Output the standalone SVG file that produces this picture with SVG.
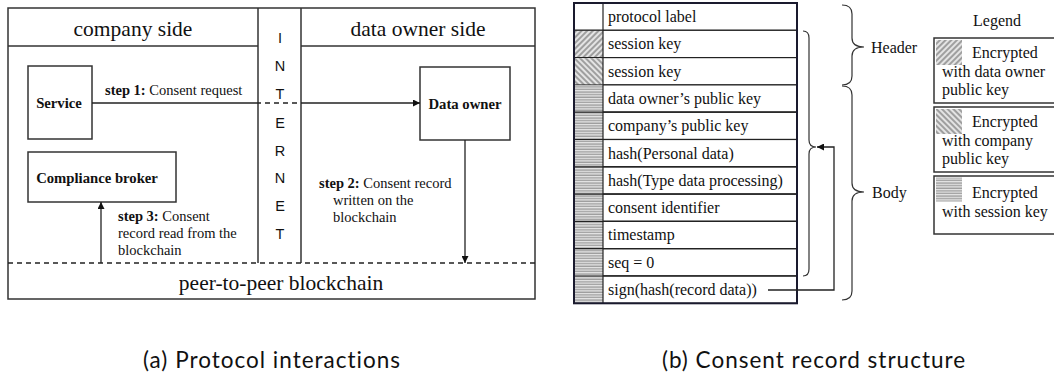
<svg xmlns="http://www.w3.org/2000/svg" width="1054" height="379" viewBox="0 0 1054 379">
  <defs>
    <style>
      .frame { fill: none; stroke: #333; stroke-width: 1.5; }
      .box { fill: #fff; stroke: #333; stroke-width: 1.5; }
      .dash { fill: none; stroke: #222; stroke-width: 1.3; stroke-dasharray: 5 4; }
      .wire { fill: none; stroke: #222; stroke-width: 1.3; }
      .brace { fill: none; stroke: #333; stroke-width: 1.2; }
      .row { fill: #fff; stroke: #222; stroke-width: 1.2; }
      .rm { font-family: "Liberation Serif", "DejaVu Serif", "Noto Serif", serif; }
      .nd { font-family: "Liberation Serif", "DejaVu Serif", serif; font-size: 14.7px; font-weight: bold; }
      text { fill: #111; }
    </style>
    <marker id="arrow" viewBox="0 0 10 10" refX="10" refY="5" markerWidth="7" markerHeight="7" markerUnits="userSpaceOnUse" orient="auto">
      <path d="M0,0 L10,5 L0,10 z" fill="#111"/>
    </marker>
    <!-- encrypted with data owner public key -->
    <pattern id="hatchOwner" width="4" height="4" patternUnits="userSpaceOnUse" patternTransform="rotate(45)">
      <rect width="4" height="4" fill="#e4e4e4"/>
      <line x1="1" y1="0" x2="1" y2="4" stroke="#7a7a7a" stroke-width="1.3"/>
    </pattern>
    <!-- encrypted with company public key -->
    <pattern id="hatchCompany" width="4" height="4" patternUnits="userSpaceOnUse" patternTransform="rotate(-45)">
      <rect width="4" height="4" fill="#e4e4e4"/>
      <line x1="1" y1="0" x2="1" y2="4" stroke="#7a7a7a" stroke-width="1.3"/>
    </pattern>
    <!-- encrypted with session key -->
    <pattern id="hatchSession" width="4" height="2.6" patternUnits="userSpaceOnUse">
      <rect width="4" height="2.6" fill="#e8e8e8"/>
      <line x1="0" y1="1" x2="4" y2="1" stroke="#8c8c8c" stroke-width="1.1"/>
    </pattern>
  </defs>

  <rect width="1054" height="379" fill="#fff"/>

  <!-- ===== (a) protocol interactions ===== -->
  <g id="frame-a">
    <rect class="frame" x="8" y="8" width="527" height="291"/>
    <line class="frame" x1="8" y1="46" x2="258" y2="46"/>
    <line class="frame" x1="301" y1="46" x2="535" y2="46"/>
    <line class="frame" x1="258" y1="8" x2="258" y2="263"/>
    <line class="frame" x1="301" y1="8" x2="301" y2="263"/>
    <line class="dash" x1="8" y1="263" x2="535" y2="263"/>
    <g class="rm" font-size="21.5" text-anchor="middle">
      <text x="133" y="36">company side</text>
      <text x="418" y="36">data owner side</text>
      <text x="281" y="290">peer-to-peer blockchain</text>
    </g>
    <g font-family="'Liberation Sans', Arial, sans-serif" font-size="14.5" text-anchor="middle">
      <text x="280" y="43">I</text>
      <text x="280" y="71">N</text>
      <text x="280" y="99">T</text>
      <text x="280" y="128">E</text>
      <text x="280" y="156">R</text>
      <text x="280" y="183">N</text>
      <text x="280" y="211">E</text>
      <text x="280" y="239">T</text>
    </g>
  </g>

  <g id="service">
    <rect class="box" x="28" y="66" width="64" height="73"/>
    <text class="nd" x="59" y="108" text-anchor="middle">Service</text>
  </g>

  <g id="data-owner">
    <rect class="box" x="420" y="67" width="90" height="73"/>
    <text class="nd" x="465" y="109" text-anchor="middle">Data owner</text>
  </g>

  <g id="compliance-broker">
    <rect class="box" x="28" y="152" width="148" height="50"/>
    <text class="nd" x="97" y="183" text-anchor="middle">Compliance broker</text>
  </g>

  <g id="connectors-a">
    <!-- step 1: service to data owner across the internet -->
    <line class="wire" x1="92" y1="103" x2="256" y2="103"/>
    <line class="dash" x1="256" y1="103" x2="301" y2="103"/>
    <line class="wire" x1="301" y1="103" x2="420" y2="103" marker-end="url(#arrow)"/>
    <!-- step 2: data owner writes to the chain -->
    <line class="wire" x1="465" y1="140" x2="465" y2="263" marker-end="url(#arrow)"/>
    <!-- step 3: broker reads from the chain -->
    <line class="wire" x1="101" y1="263" x2="101" y2="202" marker-end="url(#arrow)"/>

    <g class="rm" font-size="14.5">
      <text x="105" y="95"><tspan font-weight="bold">step 1:</tspan> Consent request</text>
      <text x="319" y="188"><tspan font-weight="bold">step 2:</tspan> Consent record</text>
      <text x="333" y="205">written on the</text>
      <text x="333" y="222">blockchain</text>
      <text x="118" y="221"><tspan font-weight="bold">step 3:</tspan> Consent</text>
      <text x="118" y="238">record read from the</text>
      <text x="118" y="255">blockchain</text>
    </g>
  </g>

  <!-- ===== (b) consent record structure ===== -->
  <g id="record">
    <rect class="row" x="574" y="3" width="223" height="27.3"/>
    <rect class="row" x="574" y="30.3" width="223" height="27.3"/>
    <rect class="row" x="574" y="57.6" width="223" height="27.3"/>
    <rect class="row" x="574" y="84.9" width="223" height="27.3"/>
    <rect class="row" x="574" y="112.2" width="223" height="27.3"/>
    <rect class="row" x="574" y="139.5" width="223" height="27.3"/>
    <rect class="row" x="574" y="166.8" width="223" height="27.3"/>
    <rect class="row" x="574" y="194.1" width="223" height="27.3"/>
    <rect class="row" x="574" y="221.4" width="223" height="27.3"/>
    <rect class="row" x="574" y="248.7" width="223" height="27.3"/>
    <rect class="row" x="574" y="276" width="223" height="27.3"/>

    <!-- encryption markers -->
    <rect x="574.6" y="30.9" width="28.4" height="26.1" fill="url(#hatchOwner)"/>
    <rect x="574.6" y="58.2" width="28.4" height="26.1" fill="url(#hatchCompany)"/>
    <rect x="574.6" y="85.5" width="28.4" height="218" fill="url(#hatchSession)"/>
    <g stroke="#222" stroke-width="1.2">
      <line x1="574" y1="112.2" x2="797" y2="112.2"/>
      <line x1="574" y1="139.5" x2="797" y2="139.5"/>
      <line x1="574" y1="166.8" x2="797" y2="166.8"/>
      <line x1="574" y1="194.1" x2="797" y2="194.1"/>
      <line x1="574" y1="221.4" x2="797" y2="221.4"/>
      <line x1="574" y1="248.7" x2="797" y2="248.7"/>
      <line x1="574" y1="276" x2="797" y2="276"/>
    </g>
    <line x1="603" y1="3" x2="603" y2="303.3" stroke="#222" stroke-width="1.2"/>
    <rect x="574" y="3" width="223" height="300.3" fill="none" stroke="#1a1a2e" stroke-width="2"/>

    <g class="rm" font-size="16">
      <text x="608" y="22">protocol label</text>
      <text x="608" y="49.3">session key</text>
      <text x="608" y="76.6">session key</text>
      <text x="608" y="103.9">data owner’s public key</text>
      <text x="608" y="131.2">company’s public key</text>
      <text x="608" y="158.5">hash(Personal data)</text>
      <text x="608" y="185.8">hash(Type data processing)</text>
      <text x="608" y="213.1">consent identifier</text>
      <text x="608" y="240.4">timestamp</text>
      <text x="608" y="267.7">seq = 0</text>
      <text x="608" y="295">sign(hash(record data))</text>
    </g>
  </g>

  <g id="braces">
    <!-- signed span -->
    <path class="brace" d="M803,31 Q809,31 809,38 L809,140 Q809,147 816,147 Q809,147 809,154 L809,269 Q809,276 803,276"/>
    <!-- header span -->
    <path class="brace" d="M842,5 Q852,5 852,14 L852,38 Q852,47 864,47 Q852,47 852,56 L852,76 Q852,85 842,85"/>
    <!-- body span -->
    <path class="brace" d="M842,86 Q852,86 852,95 L852,183 Q852,192 864,192 Q852,192 852,201 L852,291 Q852,300 842,300"/>
    <g class="rm" font-size="16">
      <text x="871" y="53">Header</text>
      <text x="872" y="198">Body</text>
    </g>
  </g>

  <g id="connectors-b">
    <path class="wire" d="M768,290 L834,290 L834,147 L817,147" marker-end="url(#arrow)"/>
  </g>

  <g id="legend" class="rm" font-size="16">
    <text x="997" y="26" text-anchor="middle">Legend</text>
    <rect class="box" x="934" y="38" width="130" height="65"/>
    <rect x="936" y="40" width="26" height="25" fill="url(#hatchOwner)"/>
    <text x="972" y="58">Encrypted</text>
    <text x="942" y="77">with data owner</text>
    <text x="942" y="95">public key</text>

    <rect class="box" x="934" y="107" width="130" height="65"/>
    <rect x="936" y="109" width="26" height="25" fill="url(#hatchCompany)"/>
    <text x="972" y="127">Encrypted</text>
    <text x="942" y="146">with company</text>
    <text x="942" y="164">public key</text>

    <rect class="box" x="934" y="176" width="130" height="58"/>
    <rect x="936" y="177.5" width="26" height="24" fill="url(#hatchSession)"/>
    <text x="972" y="198">Encrypted</text>
    <text x="942" y="217">with session key</text>
  </g>

  <g id="captions" font-family="Lato, 'Liberation Sans', sans-serif" font-size="22.5" letter-spacing="1">
    <text x="272" y="368" text-anchor="middle">(a) Protocol interactions</text>
    <text x="814" y="368" text-anchor="middle">(b) Consent record structure</text>
  </g>
</svg>
